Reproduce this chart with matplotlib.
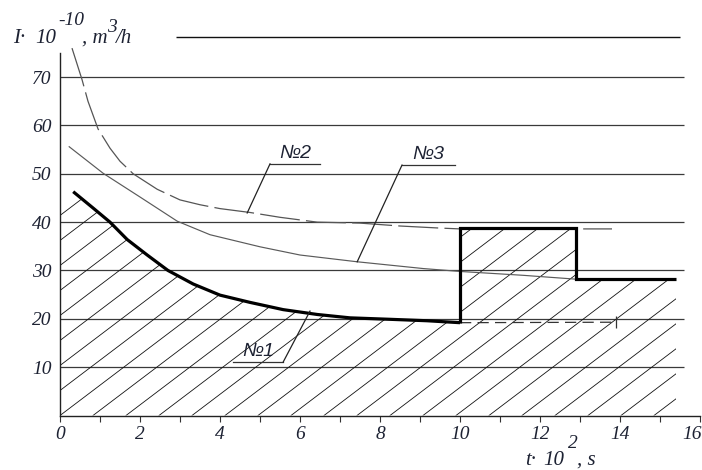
import numpy as np
import matplotlib
matplotlib.use("Agg")
import matplotlib.pyplot as plt
from matplotlib.patches import Polygon
from matplotlib.transforms import ScaledTranslation

# ---------------- data ----------------
# curve No1 (thick, lower boundary of hatched zone)
t1 = [0.33, 0.83, 1.25, 1.68, 2.18, 2.7, 3.33, 4.0, 4.75, 5.58, 6.43, 7.25, 8.25, 9.18, 10.0]
I1 = [46.3, 42.9, 40.0, 36.4, 33.2, 30.0, 27.2, 24.9, 23.4, 21.9, 20.9, 20.2, 19.9, 19.6, 19.2]
# step continuation of No1
step_t = [10.0, 10.0, 12.9, 12.9, 15.4]
step_I = [19.2, 38.7, 38.7, 28.3, 28.3]
# dashed continuation of No1 without the step
ext_t = [10.0, 13.9]
ext_I = [19.2, 19.3]
# curve No2 (dashed)
t2 = [0.3, 0.55, 0.7, 0.95, 1.25, 1.5, 1.83, 2.43, 3.0, 3.5, 4.0, 4.75, 5.5, 6.43, 7.5, 8.5, 9.43, 10.0, 12.0, 13.8]
I2 = [76.0, 69.5, 65.0, 59.3, 55.3, 52.6, 50.0, 46.8, 44.6, 43.6, 42.8, 42.0, 41.0, 40.0, 39.8, 39.2, 38.8, 38.6, 38.6, 38.6]
# curve No3 (thin solid)
t3 = [0.23, 1.08, 2.0, 2.93, 3.75, 5.0, 6.0, 7.43, 9.08, 10.0, 11.58, 12.9]
I3 = [55.6, 50.1, 45.2, 40.2, 37.4, 34.9, 33.2, 31.8, 30.4, 29.8, 29.0, 28.2]

grid_vals = [10, 20, 30, 40, 50, 60, 70]
ytick_vals = [10, 20, 30, 40, 50, 60, 70]
xtick_vals = [0, 2, 4, 6, 8, 10, 12, 14, 16]
xminor_vals = [1, 3, 5, 7, 9, 11, 13, 15]

# curve labels: text, underline x-range, underline y, leader target on curve
lab_text = ["№1", "№2", "№3"]
lab_ux0 = [4.33, 5.25, 8.55]
lab_ux1 = [5.58, 6.50, 9.875]
lab_uy = [11.07, 52.05, 51.8]
lab_from_right = [True, False, False]
lab_tx = [6.25, 4.68, 7.43]
lab_ty = [21.6, 41.9, 31.8]

# ---------------- figure ----------------
W, H = 702, 470
fig = plt.figure(figsize=(W / 100, H / 100), dpi=100)
ax = fig.add_axes([60 / W, 54.5 / H, 640 / W, 378.5 / H])
ax.set_xlim(0, 16)
ax.set_ylim(0, 78.3)

serif = "Liberation Serif"
sans = "Liberation Sans"
txtc = "#1d2233"

# grid-like horizontal lines
ax.hlines(grid_vals, 0, 15.6, colors="#3a3a3a", lw=0.9, zorder=1)
ax.hlines([78.3], 2.9, 15.5, colors="#111111", lw=1.0, clip_on=False, zorder=1)

# hatched zone
verts = [(0, 0), (0, I1[0] - 4)] + list(zip(t1, I1)) + list(zip(step_t, step_I)) + [(step_t[-1], 0)]
zone = Polygon(verts, closed=True, facecolor="none", edgecolor="none")
ax.add_patch(zone)
slope = 6.27
for x0 in np.arange(-14 * 0.825, 16, 0.825):
    ln, = ax.plot([x0, x0 + 13], [0, 13 * slope], color="#111111", lw=0.6, zorder=2)
    ln.set_clip_path(zone)

# curves
ax.plot(t2, I2, color="#555555", lw=0.9, dashes=(32, 5), zorder=3)
ax.plot(t3, I3, color="#5a5a5a", lw=0.85, zorder=3)
ax.plot(ext_t, ext_I, color="#333333", lw=0.9, dashes=(9, 5), zorder=3)
ax.plot(ext_t[-1:], ext_I[-1:], marker="|", ms=8, mew=0.9, color="#333333", zorder=3)
ax.plot(t1, I1, color="black", lw=2.3, solid_capstyle="butt", zorder=4)
ax.plot(step_t, step_I, color="black", lw=2.3, solid_joinstyle="miter",
        solid_capstyle="butt", zorder=4)

# labels with leaders
for s, u0, u1, uy, fr, tx, ty in zip(lab_text, lab_ux0, lab_ux1, lab_uy,
                                     lab_from_right, lab_tx, lab_ty):
    ax.plot([u0, u1], [uy, uy], color="#333333", lw=0.9, zorder=5)
    sx = u1 if fr else u0
    ax.plot([sx, tx], [uy, ty], color="#222222", lw=0.9, zorder=5)
    ax.text((u0 + u1) / 2, uy + 0.4, s, ha="center", va="bottom",
            fontsize=14, fontstyle="italic", family=sans, color=txtc, zorder=6)

# axes
for sp in ("top", "right"):
    ax.spines[sp].set_visible(False)
ax.spines["left"].set_bounds(0, 75)
ax.spines["left"].set_color("#222222")
ax.spines["bottom"].set_color("#222222")
ax.spines["left"].set_linewidth(1.0)
ax.spines["bottom"].set_linewidth(1.0)

ax.set_xticks(xtick_vals)
ax.set_xticklabels([str(v) for v in xtick_vals])
ax.set_xticks(xminor_vals, minor=True)
ax.tick_params(axis="x", which="both", direction="out", length=4.5, width=0.8,
               color="#333333", pad=3)
ax.set_yticks(ytick_vals)
ax.set_yticklabels([str(v) for v in ytick_vals])
ax.tick_params(axis="y", length=0, pad=6)
for lab in ax.get_xticklabels() + ax.get_yticklabels():
    lab.set_fontfamily(serif)
    lab.set_fontstyle("italic")
    lab.set_fontsize(14)
    lab.set_color(txtc)
last = ax.get_xticklabels()[-1]
last.set_transform(last.get_transform() + ScaledTranslation(-8 / 100, 0, fig.dpi_scale_trans))

# axis titles (pieces placed like the reference)
def ftext(x, y, s, size=15):
    fig.text(x / W, 1 - y / H, s, fontsize=size, fontstyle="italic", family=serif,
             color=txtc, va="baseline", ha="left")

ftext(13, 43, "I·")
ftext(35, 43, "10")
ftext(58, 25, "-10", 14)
ftext(82, 43, ", m")
ftext(107, 32, "3", 14)
ftext(116, 43, "/h")

ftext(525, 465, "t·")
ftext(543, 465, "10")
ftext(568, 448, "2", 14)
ftext(577, 465, ", s")

fig.savefig("out.png", dpi=100)
